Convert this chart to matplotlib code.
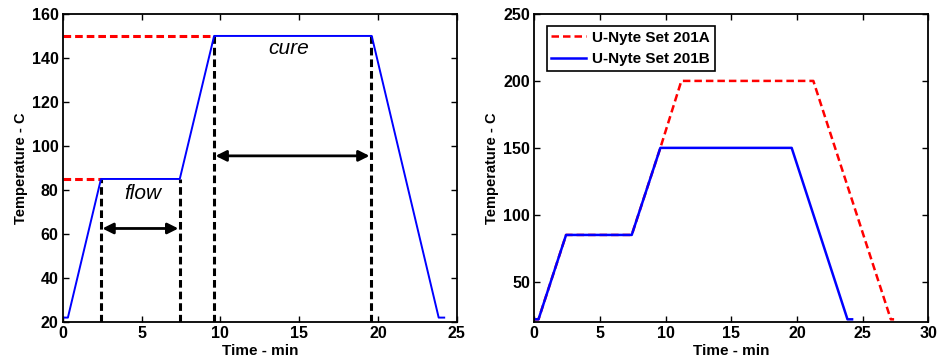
import matplotlib
matplotlib.use("Agg")
import matplotlib.pyplot as plt

plt.rcParams['font.family'] = ['Liberation Sans', 'DejaVu Sans']
plt.rcParams['font.weight'] = 'bold'

# Cure profile data (time in min, temperature in C)
time_b = [0, 0.32, 2.42, 7.42, 9.6, 19.6, 23.85, 24.2]
temp_b = [22, 22, 85, 85, 150, 150, 22, 22]

time_a = [0, 0.32, 2.42, 7.42, 9.6, 11.2, 21.25, 27.15, 27.4]
temp_a = [22, 22, 85, 85, 150, 200, 200, 22, 22]

# Left-panel annotations
hold_levels = [85, 150]
hold_starts = [2.42, 9.6]
vline_x = [2.42, 7.42, 9.6, 19.55]
vline_top = [85, 85, 150, 150]
flow_arrow = (2.42, 7.42, 62.5)
cure_arrow = (9.6, 19.55, 95.5)

legend_labels = ['U-Nyte Set 201A', 'U-Nyte Set 201B']

fig = plt.figure(figsize=(9.38, 3.62), dpi=100)
ax1 = fig.add_axes([0.067, 0.1105, 0.42, 0.851])
ax2 = fig.add_axes([0.5696, 0.1105, 0.42, 0.851])

def style(ax):
    ax.tick_params(direction='in', top=True, right=True, labelsize=11.5, length=4, width=1, pad=3)
    for s in ax.spines.values():
        s.set_linewidth(1.3)
    for lab in ax.get_xticklabels() + ax.get_yticklabels():
        lab.set_fontweight('bold')
    ax.set_xlabel('Time - min', fontsize=11, fontweight='bold', labelpad=2)
    ax.set_ylabel('Temperature - C', fontsize=10.5, fontweight='bold', labelpad=3)

# Left panel
for lvl, xs in zip(hold_levels, hold_starts):
    ax1.plot([0, xs], [lvl, lvl], color='red', ls='--', lw=2.2, dashes=(2.5, 1.3))
for xv, top in zip(vline_x, vline_top):
    ax1.plot([xv, xv], [20, top], color='black', ls='--', lw=2.2, dashes=(2.5, 1.3))
ax1.plot(time_b, temp_b, color='blue', lw=1.4)
for x0, x1, yv in [flow_arrow, cure_arrow]:
    ax1.annotate('', xy=(x1, yv), xytext=(x0, yv),
                 arrowprops=dict(arrowstyle='<|-|>', color='black', lw=2,
                                 mutation_scale=16, shrinkA=1, shrinkB=1))
ax1.text(5.1, 78.3, 'flow', fontsize=15, style='italic', fontweight='normal',
         ha='center', va='center')
ax1.text(14.3, 144.5, 'cure', fontsize=15, style='italic', fontweight='normal',
         ha='center', va='center')
ax1.set_xlim(0, 25)
ax1.set_ylim(20, 160)
ax1.set_xticks([0, 5, 10, 15, 20, 25])
ax1.set_yticks([20, 40, 60, 80, 100, 120, 140, 160])
style(ax1)

# Right panel
ax2.plot(time_a, temp_a, color='red', ls='--', lw=1.8, dashes=(3, 1.6), label=legend_labels[0])
ax2.plot(time_b, temp_b, color='blue', lw=1.8, label=legend_labels[1])
ax2.set_xlim(0, 30)
ax2.set_ylim(20, 250)
ax2.set_xticks([0, 5, 10, 15, 20, 25, 30])
ax2.set_yticks([50, 100, 150, 200, 250])
style(ax2)
leg = ax2.legend(loc='upper left', prop={'weight': 'bold', 'size': 11},
                 fancybox=False, edgecolor='black', framealpha=1,
                 borderaxespad=0.8, handlelength=2.3, handletextpad=0.4,
                 labelspacing=0.5, borderpad=0.3)
leg.get_frame().set_linewidth(1.2)

fig.savefig('out.png', dpi=100)
